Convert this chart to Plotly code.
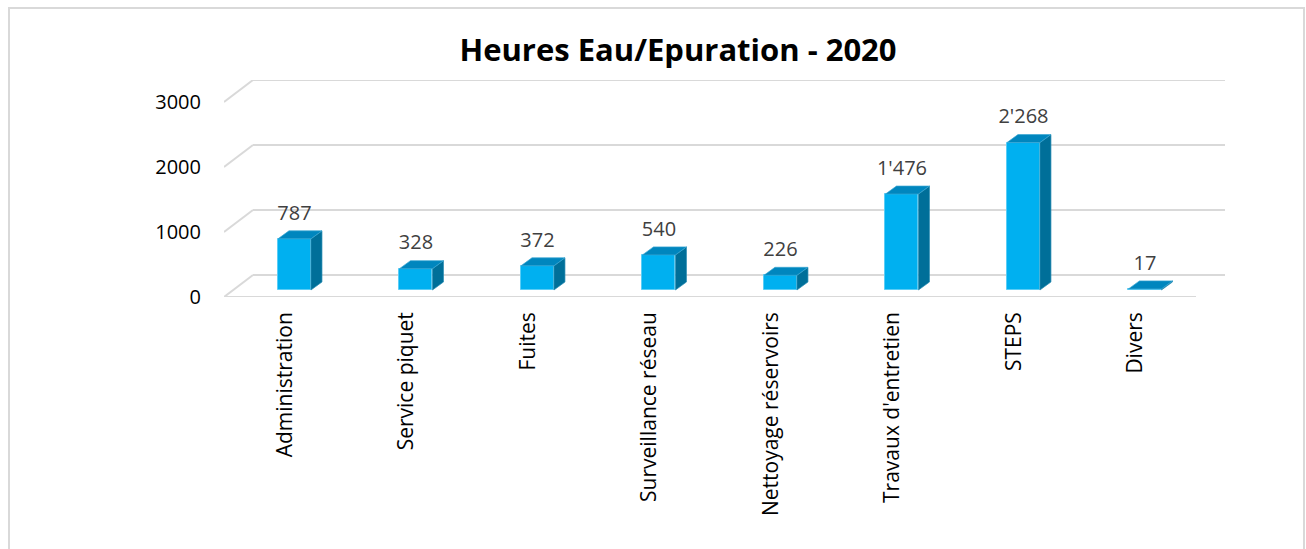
import plotly.graph_objects as go

# ---- data ----
categories = ["Administration", "Service piquet", "Fuites", "Surveillance réseau",
              "Nettoyage réservoirs", "Travaux d'entretien", "STEPS", "Divers"]
hours = [787, 328, 372, 540, 226, 1476, 2268, 17]
y_ticks = [0, 1000, 2000, 3000]
title_text = "Heures Eau/Epuration - 2020"

# ---- pseudo-3D geometry (in axis units) ----
W, H = 1306, 549
L, R, T, B = 224, 81, 80, 252
n = len(categories)
WALL_DX, WALL_DY = 0.2387, 338.5      # depth of back wall
BAR_OX, BAR_OY = 0.080, 108.0          # bar front offset from floor front
BAR_W = 0.2716
BAR_DX, BAR_DY = 0.0905, 123.0        # bar depth

FONT = "Open Sans"
GRID = "#d9d9d9"
FRONT = "#00B0F0"
TOP = "#0086BE"
SIDE = "#006F99"

fig = go.Figure()

# gridlines (below traces): back wall + side diagonals + floor front edge
for v in y_ticks:
    fig.add_shape(type="line", xref="x", yref="y", x0=0, y0=v, x1=WALL_DX, y1=v + WALL_DY,
                  line=dict(color=GRID, width=2), layer="below")
    fig.add_shape(type="line", xref="x", yref="y", x0=WALL_DX, y0=v + WALL_DY,
                  x1=n + WALL_DX, y1=v + WALL_DY, line=dict(color=GRID, width=2), layer="below")
fig.add_shape(type="line", xref="x", yref="y", x0=0, y0=0, x1=n, y1=0,
              line=dict(color=GRID, width=2), layer="below")

centers = [i + 0.5 + BAR_OX for i in range(n)]

# front faces
fig.add_trace(go.Bar(x=centers, y=hours, base=BAR_OY, width=BAR_W,
                     marker=dict(color=FRONT, line=dict(color="#5BCDF6", width=1))))

# top and side faces
tx, ty, sx, sy = [], [], [], []
for c, v in zip(centers, hours):
    xl, xr = c - BAR_W / 2, c + BAR_W / 2
    b, t = BAR_OY, BAR_OY + v
    tx += [xl, xr, xr + BAR_DX, xl + BAR_DX, xl, None]
    ty += [t, t, t + BAR_DY, t + BAR_DY, t, None]
    sx += [xr, xr, xr + BAR_DX, xr + BAR_DX, xr, None]
    sy += [b, t, t + BAR_DY, b + BAR_DY, b, None]
fig.add_trace(go.Scatter(x=sx, y=sy, mode="lines", fill="toself", fillcolor=SIDE,
                         line=dict(color="#2a8cb3", width=0.7), hoverinfo="skip",
                         cliponaxis=False))
fig.add_trace(go.Scatter(x=tx, y=ty, mode="lines", fill="toself", fillcolor=TOP,
                         line=dict(color="#3aa6d3", width=0.7), hoverinfo="skip",
                         cliponaxis=False))

# data labels
labels = [f"{v:,}".replace(",", "'") for v in hours]
fig.add_trace(go.Scatter(x=centers, y=[BAR_OY + v + BAR_DY + 250 for v in hours],
                         mode="text", text=labels, textposition="middle center",
                         textfont=dict(family=FONT, size=20, color="#404040"),
                         hoverinfo="skip", cliponaxis=False))

# outer chart border
x0p = (9 - L) / (W - L - R)
x1p = (1304 - L) / (W - L - R)
y1p = (H - B - 8) / (H - T - B)
y0p = (H - B - 600) / (H - T - B)
fig.add_shape(type="rect", xref="paper", yref="paper", x0=x0p, x1=x1p, y0=y0p, y1=y1p,
              line=dict(color="#d9d9d9", width=2), fillcolor="rgba(0,0,0,0)", layer="below")

fig.update_layout(
    width=W, height=H,
    margin=dict(l=L, r=R, t=T, b=B),
    paper_bgcolor="white", plot_bgcolor="white",
    showlegend=False,
    title=dict(text=title_text, x=678 / W, xanchor="center", y=1 - 50 / H, yanchor="middle",
               font=dict(family=FONT, size=31, color="black", weight="bold")),
    xaxis=dict(range=[0, n + WALL_DX], showgrid=False, zeroline=False, showline=False,
               tickmode="array", tickvals=[i + 0.5 for i in range(n)], ticktext=categories,
               tickangle=-90, ticks="", ticklabelstandoff=10,
               tickfont=dict(family=FONT, size=21, color="black"), fixedrange=True),
    yaxis=dict(range=[0, 3000 + WALL_DY], showgrid=False, zeroline=False, showline=False,
               tickmode="array", tickvals=y_ticks, ticktext=[str(v) for v in y_ticks],
               ticks="", ticklabelstandoff=22,
               tickfont=dict(family=FONT, size=20, color="black"), fixedrange=True),
    bargap=0,
)

fig.write_html("out.html", config={"displayModeBar": False},
               post_script="document.body.style.margin='0px';"
                           "document.body.style.overflow='hidden';"
                           "document.documentElement.style.overflow='hidden';")
